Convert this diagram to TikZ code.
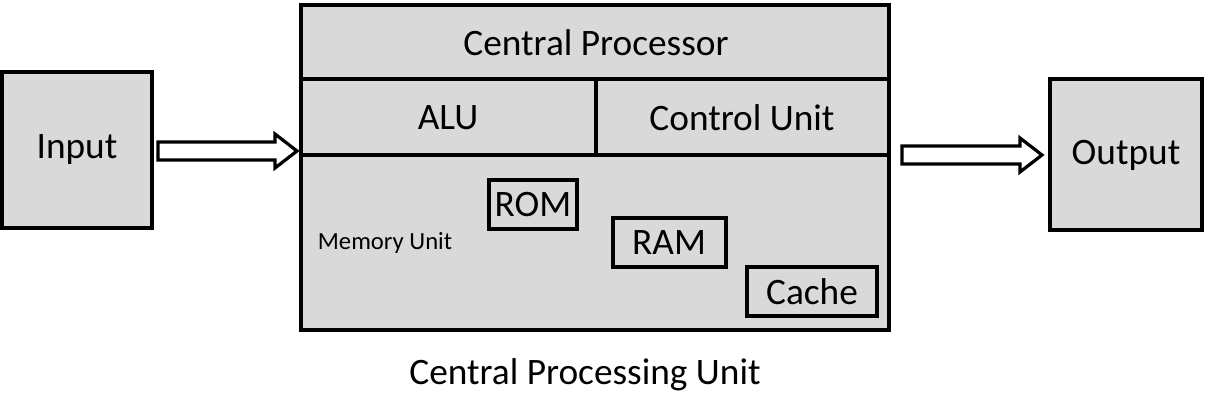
\documentclass[tikz,border=0pt]{standalone}
\usepackage{fontspec}
\setmainfont{Carlito}
\begin{document}
\begin{tikzpicture}[x=0.75pt,y=-0.75pt,
  box/.style={draw=black,line width=2.6pt,fill=gray!30},
  inner/.style={draw=black,line width=2.6pt},
  big/.style={font=\fontsize{28}{30}\selectfont},
  arr/.style={draw=black,line width=2.4pt,fill=white,line join=miter}]
\useasboundingbox (0,0) rectangle (1206,418);
\draw[box] (2,72) rectangle (152,228);
\node[big] (in) at (77,150) {Input};
\draw[box] (1050,79) rectangle (1202,230);
\node[big] (out) at (1126,155) {Output};
\draw[box] (301,5) rectangle (889,330);
\draw[inner] (301,79) -- (889,79);
\draw[inner] (301,155) -- (889,155);
\draw[inner] (596,79) -- (596,155);
\node[big] (cp) at (596,43) {Central Processor};
\node[big] (alu) at (448,118) {ALU};
\node[big] (cu) at (742,118) {Control Unit};
\node[font=\fontsize{18.5}{20}\selectfont] (mu) at (385,243) {Memory Unit};
\draw[inner] (489,180) rectangle (577,229);
\node[big] (rom) at (533,205) {ROM};
\draw[inner] (613,218) rectangle (726,267);
\node[big] (ram) at (669,243) {RAM};
\draw[inner] (747,267) rectangle (877,316);
\node[big] (cache) at (812,292) {Cache};
\node[big] (cpu) at (585,375) {Central Processing Unit};
\draw[arr] (158,142) -- (275,142) -- (275,134) -- (297,151) -- (275,168) -- (275,160) -- (158,160) -- cycle;
\draw[arr] (902,146) -- (1020,146) -- (1020,138) -- (1042,155) -- (1020,172) -- (1020,164) -- (902,164) -- cycle;
\end{tikzpicture}
\end{document}
